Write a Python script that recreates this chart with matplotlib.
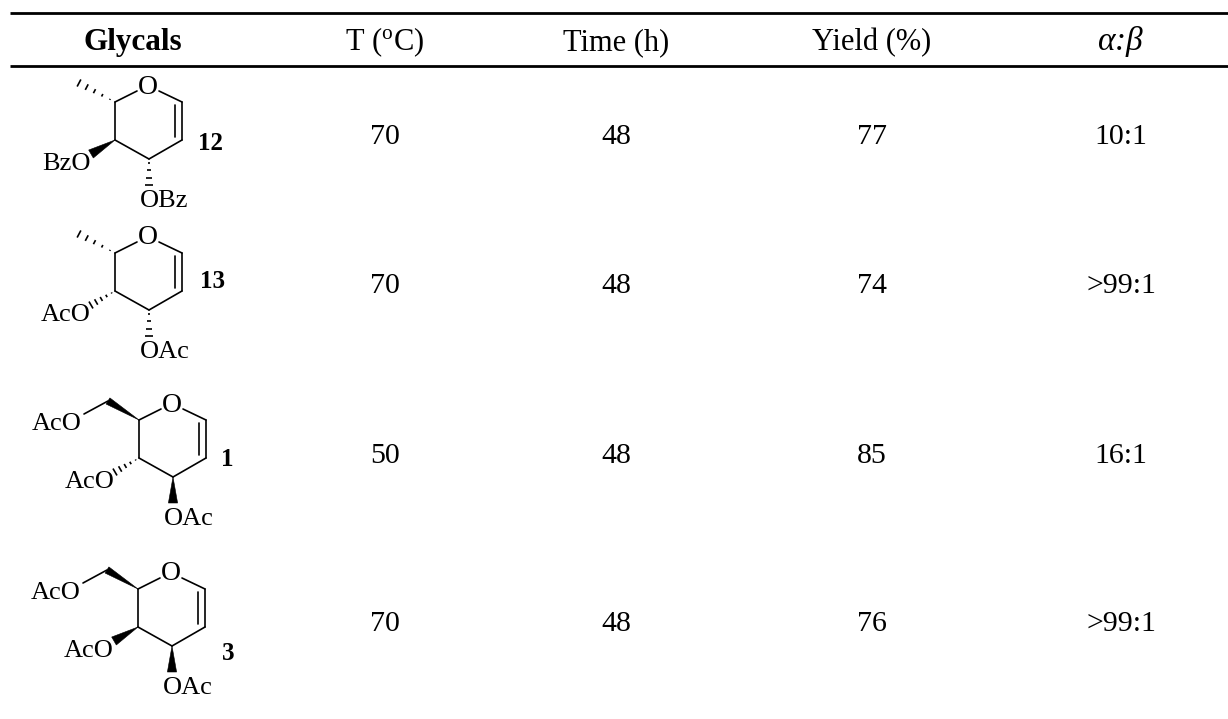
import numpy as np
import matplotlib
matplotlib.use('Agg')
import matplotlib.pyplot as plt
from matplotlib.patches import Polygon

plt.rcParams['font.family'] = ['Liberation Serif', 'DejaVu Serif']
plt.rcParams['mathtext.fontset'] = 'custom'
plt.rcParams['mathtext.it'] = 'Liberation Serif:italic'
plt.rcParams['mathtext.rm'] = 'Liberation Serif'

# table contents
headers = ['Glycals', 'T ($^{\\mathrm{o}}$C)', 'Time (h)', 'Yield (%)']
compounds = ['12', '13', '1', '3']
temps = ['70', '70', '50', '70']
times = ['48', '48', '48', '48']
yields = ['77', '74', '85', '76']
ratios = ['10:1', '>99:1', '16:1', '>99:1']

# layout, pixels (text rows are baselines)
col_x = [133, 385, 616, 872, 1121]
row_y = [144, 293, 463, 631]
header_y = 50
rule_y = [13, 66]

# ring atoms relative to ring oxygen (C5, C4, C3, C2, C1)
ring_c = {'C5': (-33, 17), 'C4': (-33, 55), 'C3': (1, 74), 'C2': (34, 55), 'C1': (34, 17)}

# ring oxygen position, label positions for each glycal
ring_o = [(148, 85), (148, 236), (172, 403), (171, 572)]
label_xy = [(211, 143), (212, 282), (227, 460), (228, 654)]
c3_name = ['OBz', 'OAc', 'OAc', 'OAc']
c4_name = ['BzO', 'AcO', 'AcO', 'AcO']
c3_kind = ['hash', 'hash', 'wedge', 'wedge']
c4_kind = ['wedge', 'hash', 'hash', 'wedge']
has_ch2 = [False, False, True, True]

fig = plt.figure(figsize=(12.28, 7.19), dpi=100)
ax = fig.add_axes([0, 0, 1, 1])
ax.set_xlim(0, 1228)
ax.set_ylim(719, 0)
ax.axis('off')

LW = 1.2


def bond(a, b, lw=LW):
    ax.plot([a[0], b[0]], [a[1], b[1]], color='black', lw=lw, solid_capstyle='round')


def wedge(a, b, w=4.6):
    a = np.array(a, float)
    b = np.array(b, float)
    d = b - a
    n = np.array([-d[1], d[0]]) / np.hypot(*d)
    ax.add_patch(Polygon([a, b + n * w, b - n * w], closed=True, fc='black', ec='black', lw=0.4))


def hashed(a, b, w=4.0, count=5):
    a = np.array(a, float)
    b = np.array(b, float)
    d = b - a
    n = np.array([-d[1], d[0]]) / np.hypot(*d)
    for f in np.linspace(0.14, 1, count):
        p = a + d * f
        ax.plot(*zip(p - n * w * f, p + n * w * f), color='black', lw=1.2, solid_capstyle='butt')


def glycal(i):
    ox, oy = ring_o[i]
    at = {k: (ox + v[0], oy + v[1]) for k, v in ring_c.items()}
    # ring skeleton, stops short of the O label
    bond((ox - 11, oy + 6), at['C5'])
    bond(at['C5'], at['C4'])
    bond(at['C4'], at['C3'])
    bond(at['C3'], at['C2'])
    bond(at['C2'], at['C1'])
    bond(at['C1'], (ox + 11, oy + 6))
    bond((at['C1'][0] - 7, at['C1'][1] + 3), (at['C2'][0] - 7, at['C2'][1] - 3))
    ax.text(ox, oy + 2, 'O', fontsize=20, ha='center', va='center')

    # C5 substituent
    if has_ch2[i]:
        ch2 = (at['C5'][0] - 31, at['C5'][1] - 19)
        wedge(at['C5'], ch2, w=3.6)
        bond(ch2, (ch2[0] - 24, ch2[1] + 13))
        ax.text(ch2[0] - 26, ch2[1] + 23, 'AcO', fontsize=19, ha='right', va='center')
    else:
        hashed(at['C5'], (at['C5'][0] - 36, at['C5'][1] - 19), count=5)

    # C4 substituent
    end = (at['C4'][0] - 24, at['C4'][1] + 14)
    if c4_kind[i] == 'wedge':
        wedge(at['C4'], end)
    else:
        hashed(at['C4'], end)
    ax.text(end[0], end[1] + 10, c4_name[i], fontsize=19, ha='right', va='center')

    # C3 substituent
    end = (at['C3'][0], at['C3'][1] + 26)
    if c3_kind[i] == 'wedge':
        wedge(at['C3'], end)
    else:
        hashed(at['C3'], end, count=4)
    ax.text(at['C3'][0] - 9, end[1] + 16, c3_name[i], fontsize=19, ha='left', va='center')

    ax.text(label_xy[i][0], label_xy[i][1], compounds[i], fontsize=18, fontweight='bold',
            ha='center', va='center')


for y in rule_y:
    ax.plot([10, 1228], [y, y], color='black', lw=2.0, solid_capstyle='butt')

ax.text(col_x[0], header_y, headers[0], fontsize=22.5, fontweight='bold', ha='center', va='baseline')
for j in range(1, 4):
    ax.text(col_x[j], header_y, headers[j], fontsize=22, ha='center', va='baseline')
ax.text(col_x[4], header_y, r'$\alpha$:$\beta$', fontsize=24, ha='center', va='baseline',
        style='italic')

for i in range(len(compounds)):
    glycal(i)
    ax.text(col_x[1], row_y[i], temps[i], fontsize=21.5, ha='center', va='baseline')
    ax.text(col_x[2], row_y[i], times[i], fontsize=21.5, ha='center', va='baseline')
    ax.text(col_x[3], row_y[i], yields[i], fontsize=21.5, ha='center', va='baseline')
    ax.text(col_x[4], row_y[i], ratios[i], fontsize=21.5, ha='center', va='baseline')

fig.savefig('out.png', dpi=100)
